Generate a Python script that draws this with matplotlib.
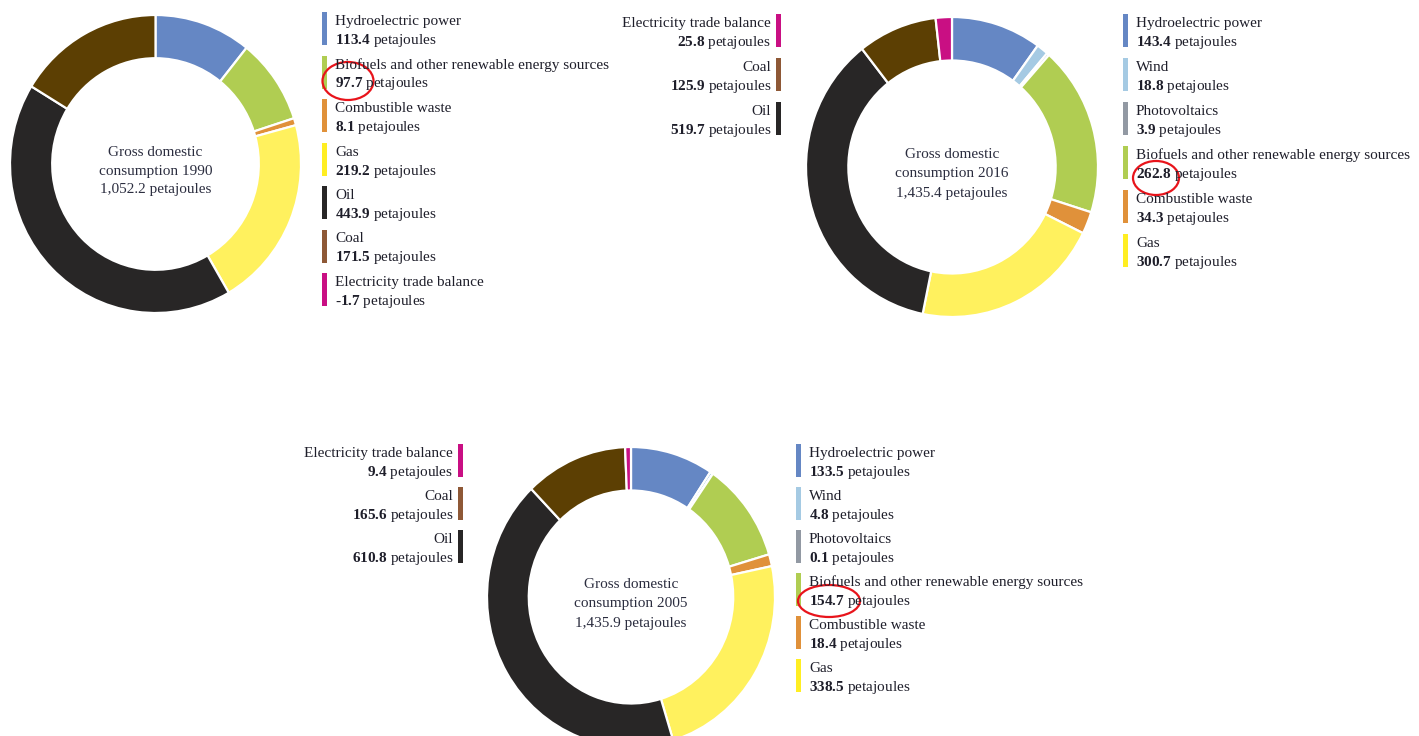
import matplotlib
matplotlib.use('Agg')
import matplotlib.pyplot as plt
from matplotlib.patches import Rectangle, Ellipse

plt.rcParams['font.family'] = 'Liberation Serif'
plt.rcParams['mathtext.fontset'] = 'custom'
plt.rcParams['mathtext.rm'] = 'Liberation Serif'
plt.rcParams['mathtext.bf'] = 'Liberation Serif:bold'

# Data (petajoules)
sources_1990 = ['Hydroelectric power', 'Biofuels and other renewable energy sources',
                'Combustible waste', 'Gas', 'Oil', 'Coal', 'Electricity trade balance']
values_1990 = [113.4, 97.7, 8.1, 219.2, 443.9, 171.5, -1.7]

sources_later = ['Hydroelectric power', 'Wind', 'Photovoltaics',
                 'Biofuels and other renewable energy sources', 'Combustible waste',
                 'Gas', 'Oil', 'Coal', 'Electricity trade balance']
values_2016 = [143.4, 18.8, 3.9, 262.8, 34.3, 300.7, 519.7, 125.9, 25.8]
values_2005 = [133.5, 4.8, 0.1, 154.7, 18.4, 338.5, 610.8, 165.6, 9.4]

totals = {'1990': '1,052.2', '2016': '1,435.4', '2005': '1,435.9'}

# Colours
pie_colors = {'Hydroelectric power': '#6587c4', 'Wind': '#a5cae3', 'Photovoltaics': '#9299a3',
              'Biofuels and other renewable energy sources': '#b0cd52',
              'Combustible waste': '#e0913a', 'Gas': '#fff15e', 'Oil': '#282626',
              'Coal': '#5c3f03', 'Electricity trade balance': '#c90f83'}
bar_colors = dict(pie_colors)
bar_colors.update({'Gas': '#ffee22', 'Coal': '#8e5836'})

txt_color = '#1e1e2a'
W, H = 1419, 736
fs = 11

fig = plt.figure(figsize=(W / 100, H / 100), dpi=100)
canvas = fig.add_axes([0, 0, 1, 1])
canvas.set_xlim(0, W)
canvas.set_ylim(H, 0)
canvas.axis('off')


def donut(cx, cy, rx, ry, names, vals, year):
    ax = fig.add_axes([(cx - rx) / W, 1 - (cy + ry) / H, 2 * rx / W, 2 * ry / H])
    keep = [(n, v) for n, v in zip(names, vals) if v > 0]
    ax.pie([v for n, v in keep], colors=[pie_colors[n] for n, v in keep],
           startangle=90, counterclock=False, radius=1,
           wedgeprops=dict(width=0.29, edgecolor='white', linewidth=1.6))
    ax.set_aspect('auto')
    ax.set_xlim(-1, 1)
    ax.set_ylim(-1, 1)
    ax.axis('off')
    canvas.text(cx, cy + 7, 'Gross domestic\nconsumption %s\n%s petajoules' % (year, totals[year]),
                ha='center', va='center', fontsize=fs, color='#2b2d3f', linespacing=1.6)


def value_text(v):
    num = '%.1f' % v
    if v < 0:
        return '-$\\mathbf{%s}$ petajoules' % num[1:]
    return '$\\mathbf{%s}$ petajoules' % num


def legend(x, y0, step, names, vals, side):
    for i, (n, v) in enumerate(zip(names, vals)):
        y = y0 + i * step
        if side == 'left':
            canvas.add_patch(Rectangle((x - 13, y - 8), 5, 33, color=bar_colors[n], lw=0))
        else:
            canvas.add_patch(Rectangle((x + 5, y - 8), 5, 33, color=bar_colors[n], lw=0))
        canvas.text(x, y + 5, n, ha=side, va='baseline', fontsize=fs, color=txt_color)
        canvas.text(x, y + 24, value_text(v), ha=side, va='baseline', fontsize=fs,
                    color=txt_color)


# 1990
donut(155.5, 164, 145.5, 149, sources_1990, values_1990, '1990')
legend(335, 20, 43.5, sources_1990, values_1990, 'left')

# 2016
donut(952, 167, 146, 150, sources_later, values_2016, '2016')
legend(1136, 22, 44, sources_later[:6], values_2016[:6], 'left')
legend(771, 22, 44, sources_later[8:5:-1], values_2016[8:5:-1], 'right')

# 2005
donut(631, 597, 144, 150, sources_later, values_2005, '2005')
legend(809, 452, 43, sources_later[:6], values_2005[:6], 'left')
legend(453, 452, 43, sources_later[8:5:-1], values_2005[8:5:-1], 'right')

# red hand-drawn circles around the biofuel values
for ex, ey, ew, eh in [(348, 81, 51, 38), (1156, 178, 46, 34), (829, 601, 62, 32)]:
    canvas.add_patch(Ellipse((ex, ey), ew, eh, fill=False, edgecolor='#e8141b', lw=1.6))

fig.savefig('out.png', dpi=100, facecolor='white')
